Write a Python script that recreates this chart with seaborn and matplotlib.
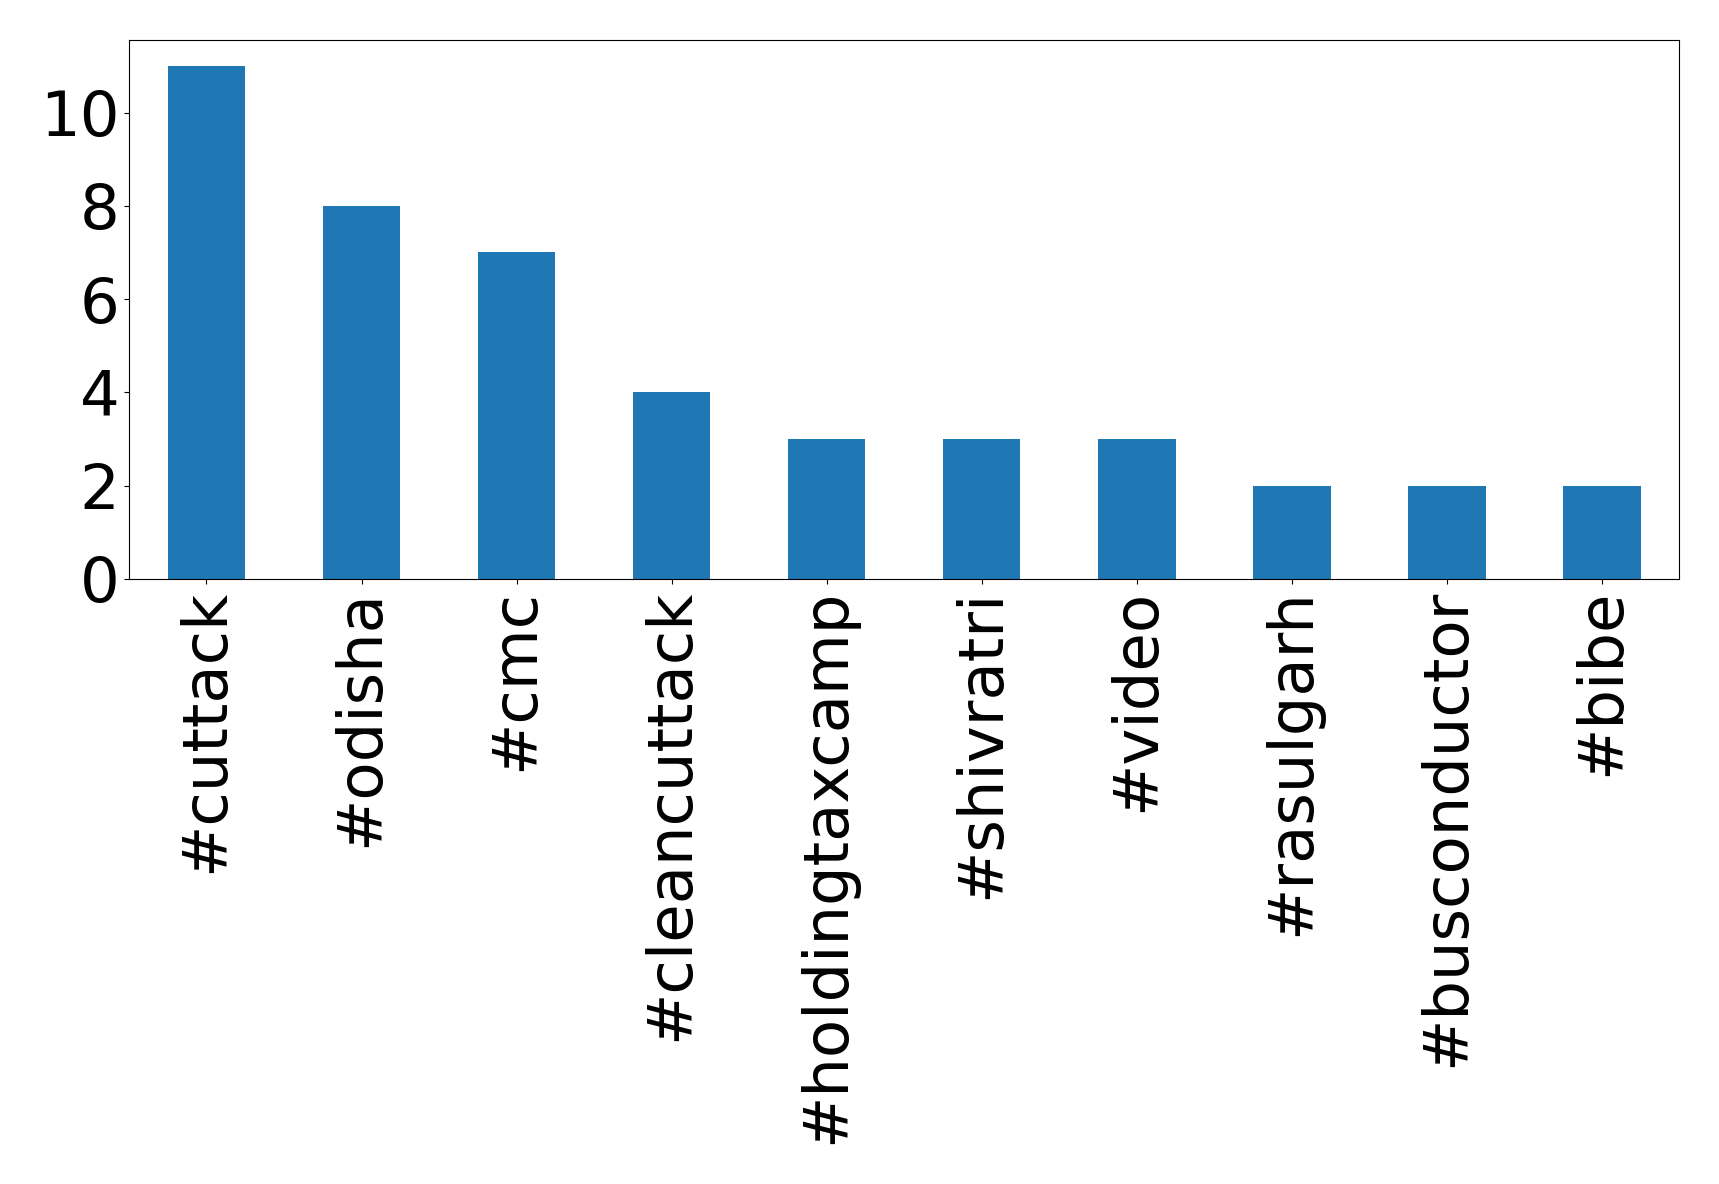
import matplotlib
matplotlib.use("Agg")
import matplotlib.pyplot as plt
import pandas as pd
import seaborn as sns

tags = ["#cuttack", "#odisha", "#cmc", "#cleancuttack", "#holdingtaxcamp",
        "#shivratri", "#video", "#rasulgarh", "#busconductor", "#bibe"]
counts = [11, 8, 7, 4, 3, 3, 3, 2, 2, 2]

df = pd.DataFrame({"tag": tags, "count": counts})

fig = plt.figure(figsize=(17.19, 11.84), dpi=100)
ax = fig.add_axes([0.075, 0.511, 0.902, 0.455])
sns.barplot(data=df, x="tag", y="count", color="#1f77b4", saturation=1,
            width=0.5, ax=ax)
ax.set_xlim(-0.5, len(tags) - 0.5)
ax.set_ylim(0, 11.55)
ax.set_yticks([0, 2, 4, 6, 8, 10])
ax.set_xlabel("")
ax.set_ylabel("")
ax.tick_params(axis="both", labelsize=45)
plt.setp(ax.get_xticklabels(), rotation=90)
fig.savefig("out.png", dpi=100)
plt.close(fig)
